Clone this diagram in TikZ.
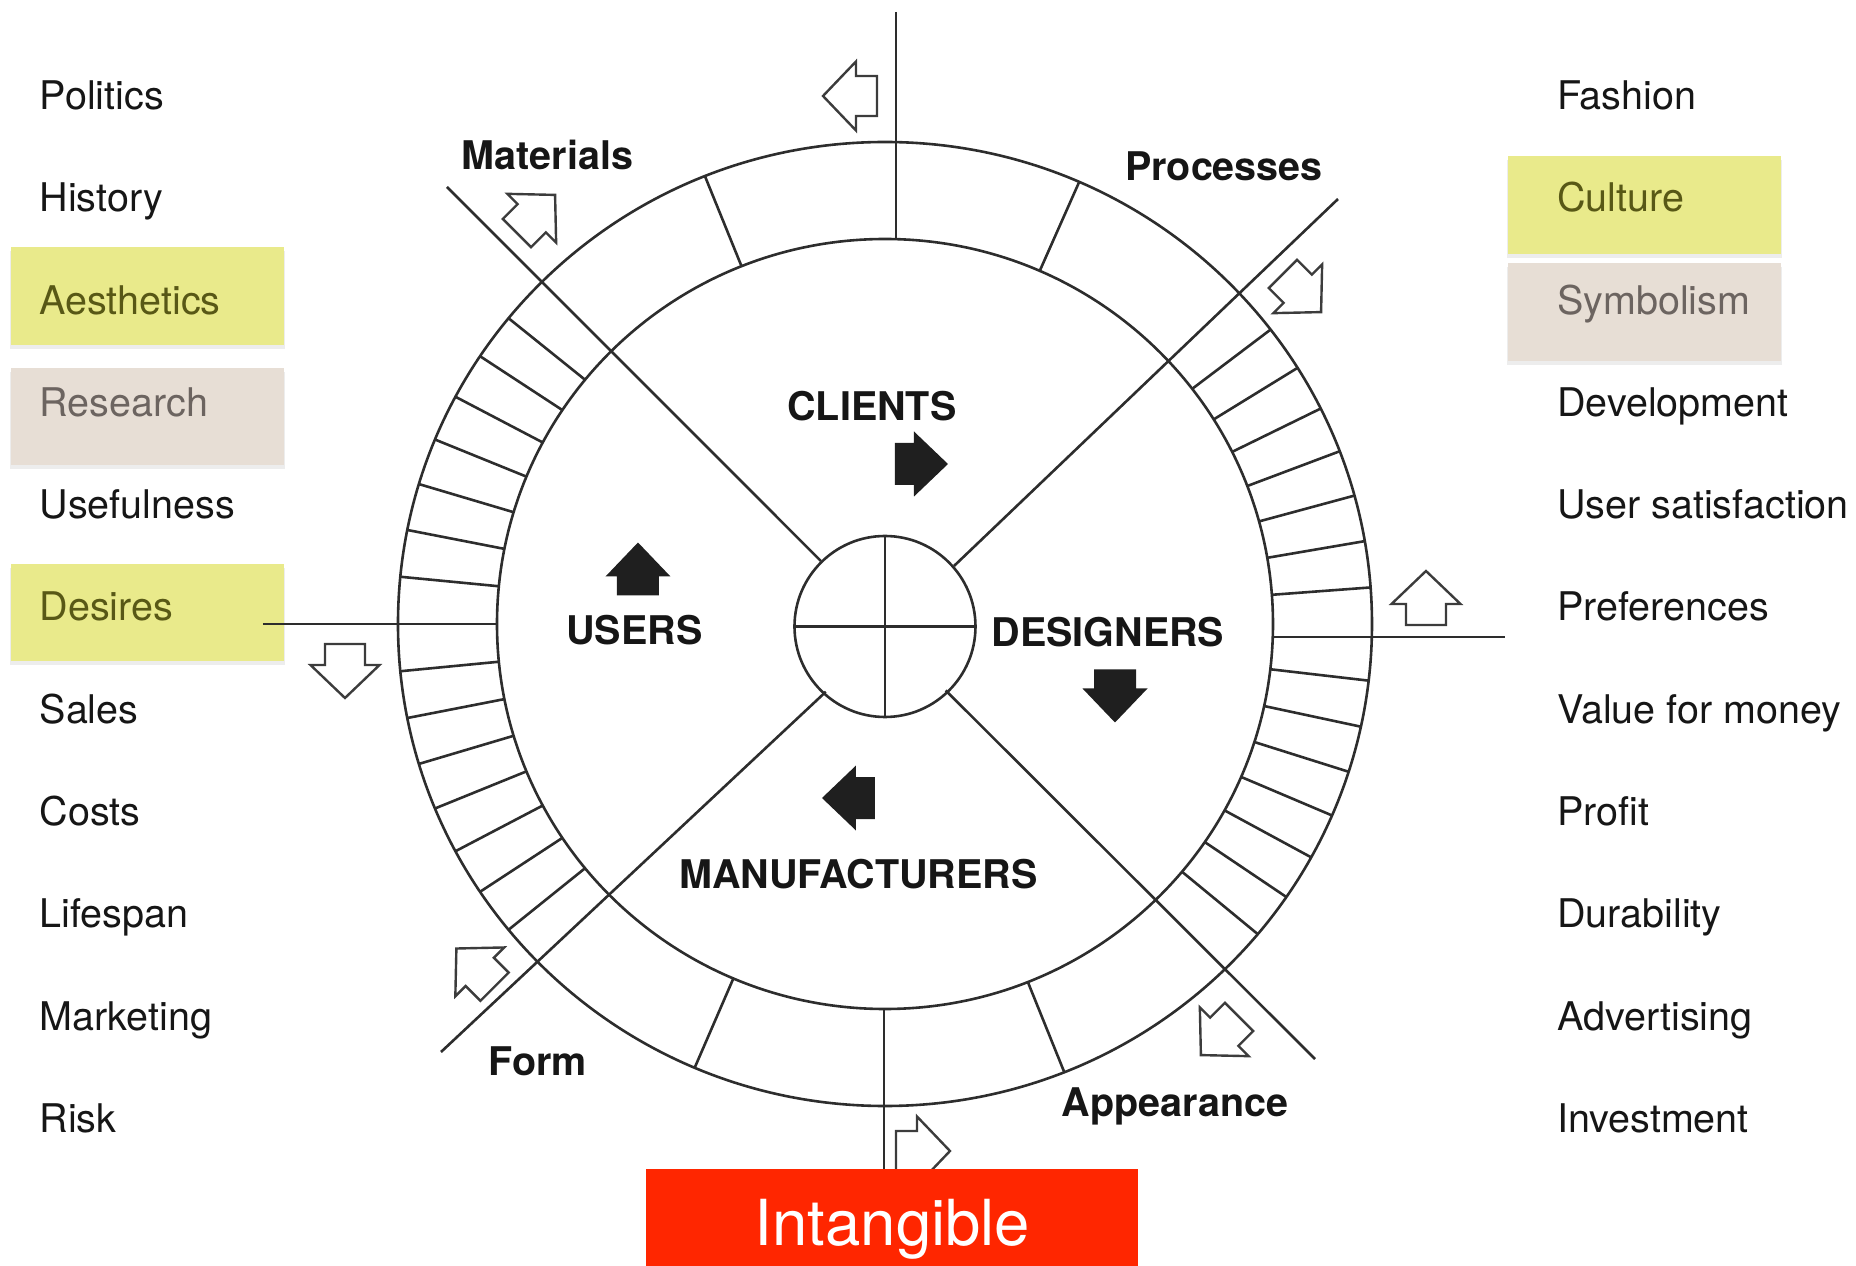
\documentclass[tikz,border=0pt]{standalone}
\usepackage{fontspec}
\setmainfont{TeX Gyre Heros}
\definecolor{linec}{RGB}{45,45,45}
\definecolor{arrc}{RGB}{60,60,60}
\definecolor{txtc}{RGB}{22,22,22}
\definecolor{yboxc}{RGB}{233,234,139}
\definecolor{bboxc}{RGB}{231,222,213}
\definecolor{ytxt}{RGB}{88,88,22}
\definecolor{btxt}{RGB}{108,100,96}
\definecolor{redc}{RGB}{255,38,0}
\tikzset{
  ring/.style={draw=linec, line width=2.6pt},
  sidetxt/.style={anchor=base west, inner sep=0pt, font=\fontsize{39.5}{47}\selectfont, text=txtc},
  lbl/.style={anchor=base, inner sep=0pt, font=\fontsize{39.5}{47}\selectfont\bfseries, text=txtc},
  pics/holarrow/.style={code={
    \draw[draw=arrc, line width=2.4pt, fill=white, line join=miter]
      (-27,20) -- (-6,20) -- (-6,34.5) -- (27,0) -- (-6,-34.5) -- (-6,-20) -- (-27,-20) -- cycle;}},
  pics/solarrow/.style={code={
    \fill[black!88]
      (-26.5,21) -- (-7.5,21) -- (-7.5,32.5) -- (26.5,0) -- (-7.5,-32.5) -- (-7.5,-21) -- (-26.5,-21) -- cycle;}}
}
\begin{document}
\begin{tikzpicture}[x=1pt,y=1pt]
\useasboundingbox (-885,-642) rectangle (971,624);

% highlight boxes (with faint shadow)
\foreach \xa/\ya/\xb/\yb/\c in {-874/377/-601/279/yboxc, -874/256/-601/159/bboxc, -874/59.5/-601/-37/yboxc, 623/468/896/370/yboxc, 623/361/896/263/bboxc}{
  \fill[black, opacity=0.07] (\xa-1,\ya-4) rectangle (\xb+1,\yb-4);
  \fill[\c] (\xa,\ya) rectangle (\xb,\yb);
}

% left column
\node[sidetxt] (l1) at (-845.5,514.5) {Politics};
\node[sidetxt] (l2) at (-845.5,412.2) {History};
\node[sidetxt, text=ytxt] (l3) at (-845.5,309.9) {Aesthetics};
\node[sidetxt, text=btxt] (l4) at (-845.5,207.6) {Research};
\node[sidetxt] (l5) at (-845.5,105.3) {Usefulness};
\node[sidetxt, text=ytxt] (l6) at (-845.5,3) {Desires};
\node[sidetxt] (l7) at (-845.5,-99.3) {Sales};
\node[sidetxt] (l8) at (-845.5,-201.6) {Costs};
\node[sidetxt] (l9) at (-845.5,-303.9) {Lifespan};
\node[sidetxt] (l10) at (-845.5,-406.2) {Marketing};
\node[sidetxt] (l11) at (-845.5,-508.5) {Risk};

% right column
\node[sidetxt] (r1) at (672,514.5) {Fashion};
\node[sidetxt, text=ytxt] (r2) at (672,412.2) {Culture};
\node[sidetxt, text=btxt] (r3) at (672,309.9) {Symbolism};
\node[sidetxt] (r4) at (672,207.6) {Development};
\node[sidetxt] (r5) at (672,105.3) {User satisfaction};
\node[sidetxt] (r6) at (672,3) {Preferences};
\node[sidetxt] (r7) at (672,-99.3) {Value for money};
\node[sidetxt] (r8) at (672,-201.6) {Profit};
\node[sidetxt] (r9) at (672,-303.9) {Durability};
\node[sidetxt] (r10) at (672,-406.2) {Advertising};
\node[sidetxt] (r11) at (672,-508.5) {Investment};

% wheel
\coordinate (c) at (0,0);
\draw[ring] (c) ellipse [x radius=487, y radius=482];
\draw[ring] (c) ellipse [x radius=388, y radius=385];
\draw[ring] (0,-2.5) circle [radius=90.5];
\draw[ring] (0,88) -- (0,-93);
\draw[ring] (-90.5,-2.5) -- (90.5,-2.5);

% ring ticks
\foreach \k in {1,2,3,4,5,6,7,9,10,11,12,13,14,15}{
  \draw[ring] ({135+5.625*\k}:388 and 385) -- ({135+5.625*\k}:487 and 482);
  \draw[ring] ({43.2-5.55*\k}:388 and 385) -- ({43.2-5.55*\k}:487 and 482);
}
\foreach \a in {111.7,66.5,247,291.6}{
  \draw[ring] (\a:388 and 385) -- (\a:487 and 482);
}

% axis lines
\coordinate (lend) at (-622,0);
\coordinate (rend) at (620,-13);
\coordinate (tend) at (11,612);
\coordinate (bend) at (-1,-548);
\draw[ring] (lend) -- (-388,0);
\draw[ring] (387.8,-13) -- (rend);
\draw[ring] (tend) -- (11,384.8);
\draw[ring] (-1,-385) -- (bend);

% diagonals
\coordinate (ulend) at (-438,437);
\coordinate (urend) at (453,425);
\coordinate (llend) at (-444,-428);
\coordinate (lrend) at (430,-435);
\draw[ring] (-64.2,63.1) -- (ulend);
\draw[ring] (69,58) -- (urend);
\draw[ring] (-59.2,-67.8) -- (llend);
\draw[ring] (60.7,-66.4) -- (lrend);

% hollow arrows
\pic (ha1) [rotate=180] at (-35,528) {holarrow};
\pic (ha2) [rotate=-90] at (-540,-47) {holarrow};
\pic (ha3) [rotate=0] at (38,-527) {holarrow};
\pic (ha4) [rotate=90] at (541,26) {holarrow};
\pic (ha5) [rotate=45] at (-349,410) {holarrow};
\pic (ha6) [rotate=-45] at (417,331) {holarrow};
\pic (ha7) [rotate=135] at (-409.5,-343.6) {holarrow};
\pic (ha8) [rotate=225] at (335,-412) {holarrow};

% solid arrows
\pic (sa1) [rotate=0] at (36.5,160) {solarrow};
\pic (sa2) [rotate=90] at (-247,55) {solarrow};
\pic (sa3) [rotate=-90] at (230,-72) {solarrow};
\pic (sa4) [rotate=180] at (-36.5,-174) {solarrow};

% labels
\node[lbl] (clients) at (-13,203) {CLIENTS};
\node[lbl] (users) at (-250.5,-21) {USERS};
\node[lbl] (designers) at (223,-23) {DESIGNERS};
\node[lbl] (manuf) at (-26.5,-264.5) {MANUFACTURERS};
\node[lbl] (materials) at (-337.5,454) {Materials};
\node[lbl] (processes) at (339,443) {Processes};
\node[lbl] (form) at (-347,-451) {Form};
\node[lbl] (appearance) at (290,-492.5) {Appearance};

% red box
\node[fill=redc, draw=none, inner sep=0pt, minimum width=492pt, minimum height=110pt, anchor=north west] (redbox) at (-239,-545) {};
\node[anchor=base, inner sep=0pt, text=white, font=\fontsize{63.5}{70}\selectfont] (intang) at (7.5,-621) {Intangible};
\end{tikzpicture}
\end{document}
